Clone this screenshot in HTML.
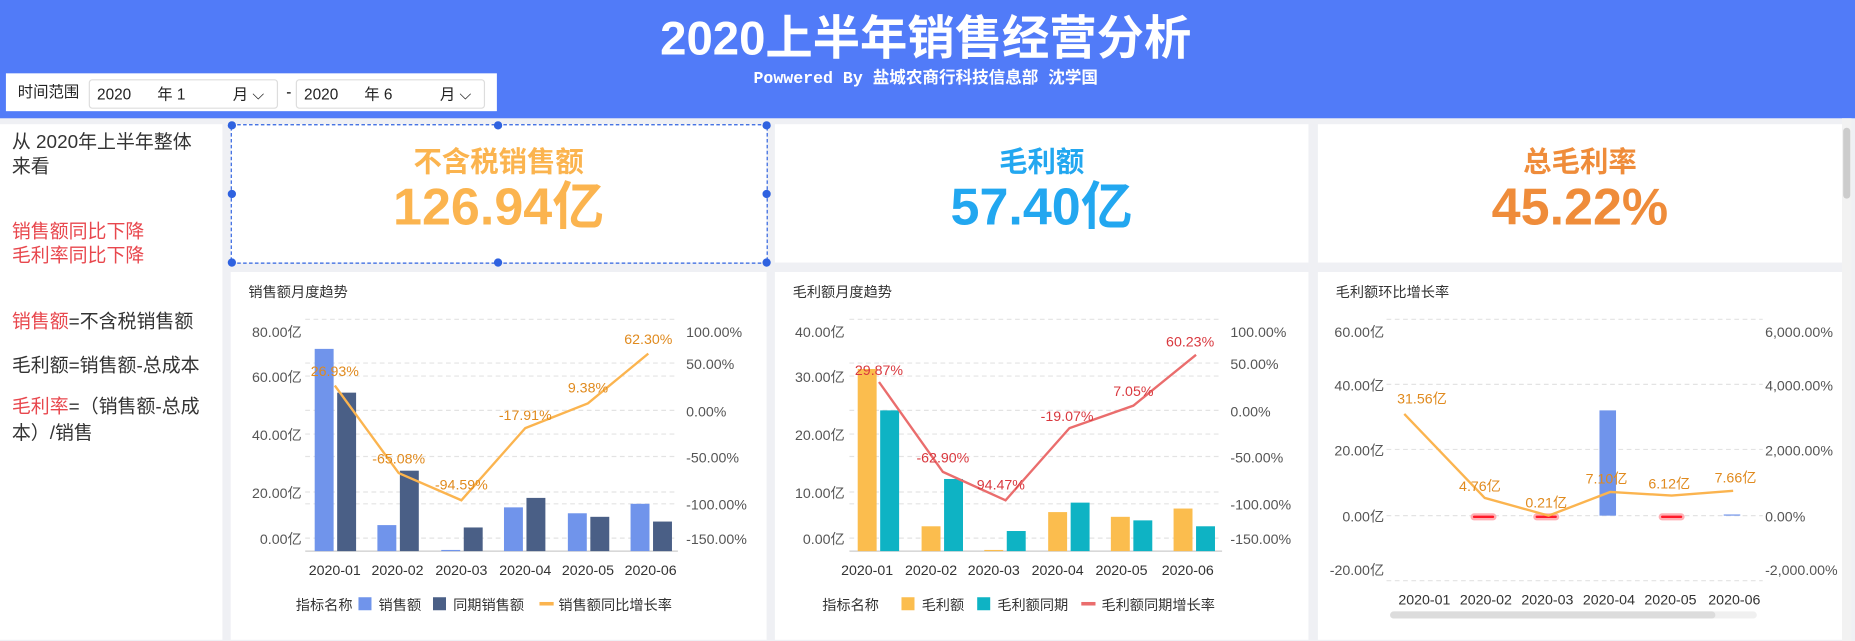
<!DOCTYPE html>
<html><head><meta charset="utf-8"><style>
html,body{margin:0;width:1855px;height:641px;overflow:hidden;background:#eff0f4}
#r{position:absolute;left:0;top:0;width:1568px;height:542px;transform:scale(1.18304,1.18266);transform-origin:0 0;font-family:"Liberation Sans","Noto Sans CJK SC",sans-serif;background:#eff0f4}
.a{position:absolute}
.w{position:absolute;background:#fff}
</style></head><body><div id="r">
<div class="a" style="left:0;top:0;width:1568px;height:100px;background:#517bf8"></div>
<div class="a" style="left:0;top:8px;width:1565px;text-align:center;color:#fff;font-size:40px;line-height:50px;font-weight:bold;">2020上半年销售经营分析</div>
<div class="a" style="left:0;top:58px;width:1565px;text-align:center;color:#fff;font-size:14px;line-height:18px;font-weight:bold;font-family:'Liberation Mono','Noto Sans CJK SC',monospace">Powwered By 盐城农商行科技信息部 沈学国</div>
<div class="w" style="left:5px;top:62px;width:415px;height:32px"></div>
<div class="a" style="left:15px;top:70px;font-size:13px;line-height:16px;color:#222">时间范围</div>
<div class="a" style="left:75px;top:67px;width:158px;height:23px;border:1px solid #ddd;border-radius:3px;font-size:13px;color:#222;line-height:23px"><span style="margin-left:6px">2020</span><span style="margin-left:22px">年 1</span><span style="margin-left:40px">月 ⌵</span></div>
<div class="a" style="left:242px;top:70px;font-size:13px">-</div>
<div class="a" style="left:250px;top:67px;width:158px;height:23px;border:1px solid #ddd;border-radius:3px;font-size:13px;color:#222;line-height:23px"><span style="margin-left:6px">2020</span><span style="margin-left:22px">年 6</span><span style="margin-left:40px">月 ⌵</span></div>

<div class="w" style="left:0;top:105px;width:188px;height:436px"></div>
<div class="a" style="left:10px;top:110px;font-size:16px;line-height:21px;color:#333">从 2020年上半年整体<br>来看</div>
<div class="a" style="left:10px;top:187px;font-size:16px;line-height:20px;color:#e8474d">销售额同比下降<br>毛利率同比下降</div>
<div class="a" style="left:10px;top:263px;font-size:16px;line-height:20px;color:#333"><span style="color:#e8474d">销售额</span>=不含税销售额</div>
<div class="a" style="left:10px;top:300px;font-size:16px;line-height:20px;color:#333">毛利额=销售额-总成本</div>
<div class="a" style="left:10px;top:334px;font-size:16px;line-height:22px;color:#333"><span style="color:#e8474d">毛利率</span>=（销售额-总成<br>本）/销售</div>

<div class="w" style="left:195px;top:105px;width:453px;height:117px"></div>
<div class="w" style="left:655px;top:105px;width:451px;height:117px"></div>
<div class="w" style="left:1114px;top:105px;width:443px;height:117px"></div>
<div class="w" style="left:195px;top:230px;width:453px;height:311px"></div>
<div class="w" style="left:655px;top:230px;width:451px;height:311px"></div>
<div class="w" style="left:1114px;top:230px;width:443px;height:311px"></div>

<div class="a" style="left:195px;top:123px;width:453px;text-align:center;font-size:24px;line-height:30px;font-weight:bold;color:#fbb44f">不含税销售额</div>
<div class="a" style="left:195px;top:151px;width:453px;text-align:center;font-size:44px;line-height:50px;font-weight:bold;color:#fbb44f">126.94亿</div>
<div class="a" style="left:655px;top:123px;width:451px;text-align:center;font-size:24px;line-height:30px;font-weight:bold;color:#22a7f0">毛利额</div>
<div class="a" style="left:655px;top:151px;width:451px;text-align:center;font-size:44px;line-height:50px;font-weight:bold;color:#22a7f0">57.40亿</div>
<div class="a" style="left:1114px;top:123px;width:443px;text-align:center;font-size:24px;line-height:30px;font-weight:bold;color:#ef8c3a">总毛利率</div>
<div class="a" style="left:1114px;top:151px;width:443px;text-align:center;font-size:44px;line-height:50px;font-weight:bold;color:#ef8c3a">45.22%</div>

<svg class="a" style="left:0;top:0" width="1568" height="542" font-family="Liberation Sans,Noto Sans CJK SC,sans-serif">
<g fill="none" stroke="#2f62e0" stroke-dasharray="3,2"><rect x="195.5" y="105.5" width="453" height="117"/></g>
<g fill="#2f62e0"><circle cx="196" cy="106" r="3.5"/><circle cx="421" cy="106" r="3.5"/><circle cx="648" cy="106" r="3.5"/><circle cx="196" cy="164" r="3.5"/><circle cx="648" cy="164" r="3.5"/><circle cx="196" cy="222" r="3.5"/><circle cx="421" cy="222" r="3.5"/><circle cx="648" cy="222" r="3.5"/></g>
<rect x="1557" y="100" width="8" height="442" fill="#f2f2f2"/>
<rect x="1558" y="108" width="6" height="60" rx="3" fill="#ccc"/>

<g font-size="12" fill="#333"><text x="210" y="251">销售额月度趋势</text><text x="670" y="251">毛利额月度趋势</text><text x="1129" y="251">毛利额环比增长率</text></g>

<g stroke="#e3e3e3" stroke-dasharray="4,3"><path d="M258 270H573M258 307H573M258 318H573M258 347H573M258 367H573M258 386H573M258 416H573M258 426H573M258 455H573"/></g>
<path d="M258 466H573" stroke="#ccc"/>
<g font-size="12" fill="#555" text-anchor="end"><text x="255" y="285">80.00亿</text><text x="255" y="323">60.00亿</text><text x="255" y="372">40.00亿</text><text x="255" y="421">20.00亿</text><text x="255" y="460">0.00亿</text></g>
<g font-size="12" fill="#555"><text x="580" y="285">100.00%</text><text x="580" y="312">50.00%</text><text x="580" y="352">0.00%</text><text x="580" y="391">-50.00%</text><text x="580" y="431">-100.00%</text><text x="580" y="460">-150.00%</text></g>
<g fill="#7094eb"><rect x="266" y="295" width="16" height="171"/><rect x="319" y="444" width="16" height="22"/><rect x="373" y="465" width="16" height="1"/><rect x="426" y="429" width="16" height="37"/><rect x="480" y="434" width="16" height="32"/><rect x="533" y="426" width="16" height="40"/></g>
<g fill="#4a5f86"><rect x="285" y="332" width="16" height="134"/><rect x="338" y="398" width="16" height="68"/><rect x="392" y="446" width="16" height="20"/><rect x="445" y="421" width="16" height="45"/><rect x="499" y="437" width="16" height="29"/><rect x="552" y="441" width="16" height="25"/></g>
<polyline points="283,326 337,400 390,423 444,362 497,341 548,299" fill="none" stroke="#fbb44f" stroke-width="2"/>
<g font-size="12" fill="#e08a1e" text-anchor="middle"><text x="283" y="318">26.93%</text><text x="337" y="392">-65.08%</text><text x="390" y="414">-94.59%</text><text x="444" y="355">-17.91%</text><text x="497" y="332">9.38%</text><text x="548" y="291">62.30%</text></g>
<g font-size="12" fill="#333" text-anchor="middle"><text x="283" y="486">2020-01</text><text x="336" y="486">2020-02</text><text x="390" y="486">2020-03</text><text x="444" y="486">2020-04</text><text x="497" y="486">2020-05</text><text x="550" y="486">2020-06</text></g>
<g font-size="12" fill="#333"><text x="250" y="516">指标名称</text><rect x="303" y="505" width="11" height="11" fill="#7094eb"/><text x="320" y="516">销售额</text><rect x="366" y="505" width="11" height="11" fill="#4a5f86"/><text x="383" y="516">同期销售额</text><rect x="456" y="509" width="12" height="3" fill="#fbb44f"/><text x="472" y="516">销售额同比增长率</text></g>

<g stroke="#e3e3e3" stroke-dasharray="4,3"><path d="M718 270H1033M718 307H1033M718 318H1033M718 347H1033M718 367H1033M718 386H1033M718 416H1033M718 426H1033M718 455H1033"/></g>
<path d="M718 466H1033" stroke="#ccc"/>
<g font-size="12" fill="#555" text-anchor="end"><text x="714" y="285">40.00亿</text><text x="714" y="323">30.00亿</text><text x="714" y="372">20.00亿</text><text x="714" y="421">10.00亿</text><text x="714" y="460">0.00亿</text></g>
<g font-size="12" fill="#555"><text x="1040" y="285">100.00%</text><text x="1040" y="312">50.00%</text><text x="1040" y="352">0.00%</text><text x="1040" y="391">-50.00%</text><text x="1040" y="431">-100.00%</text><text x="1040" y="460">-150.00%</text></g>
<g fill="#fbbd4e"><rect x="725" y="312" width="16" height="154"/><rect x="779" y="445" width="16" height="21"/><rect x="832" y="465" width="16" height="1"/><rect x="886" y="433" width="16" height="33"/><rect x="939" y="437" width="16" height="29"/><rect x="992" y="430" width="16" height="36"/></g>
<g fill="#0eb3c4"><rect x="744" y="347" width="16" height="119"/><rect x="798" y="405" width="16" height="61"/><rect x="851" y="449" width="16" height="17"/><rect x="905" y="425" width="16" height="41"/><rect x="958" y="440" width="16" height="26"/><rect x="1011" y="445" width="16" height="21"/></g>
<polyline points="743,323 797,399 850,423 904,362 958,343 1011,300" fill="none" stroke="#ea6d6d" stroke-width="2"/>
<g font-size="12" fill="#d9383e" text-anchor="middle"><text x="743" y="317">29.87%</text><text x="797" y="391">-62.90%</text><text x="846" y="414">94.47%</text><text x="902" y="356">-19.07%</text><text x="958" y="335">7.05%</text><text x="1006" y="293">60.23%</text></g>
<g font-size="12" fill="#333" text-anchor="middle"><text x="733" y="486">2020-01</text><text x="787" y="486">2020-02</text><text x="840" y="486">2020-03</text><text x="894" y="486">2020-04</text><text x="948" y="486">2020-05</text><text x="1004" y="486">2020-06</text></g>
<g font-size="12" fill="#333"><text x="695" y="516">指标名称</text><rect x="762" y="505" width="11" height="11" fill="#fbbd4e"/><text x="779" y="516">毛利额</text><rect x="826" y="505" width="11" height="11" fill="#0eb3c4"/><text x="843" y="516">毛利额同期</text><rect x="914" y="509" width="12" height="3" fill="#ea6d6d"/><text x="931" y="516">毛利额同期增长率</text></g>

<g stroke="#e3e3e3" stroke-dasharray="4,3"><path d="M1172 270H1490M1172 325H1490M1172 380H1490M1172 436H1490M1172 491H1490"/></g>
<g font-size="12" fill="#555" text-anchor="end"><text x="1170" y="285">60.00亿</text><text x="1170" y="330">40.00亿</text><text x="1170" y="385">20.00亿</text><text x="1170" y="441">0.00亿</text><text x="1170" y="486">-20.00亿</text></g>
<g font-size="12" fill="#555"><text x="1492" y="285">6,000.00%</text><text x="1492" y="330">4,000.00%</text><text x="1492" y="385">2,000.00%</text><text x="1492" y="441">0.00%</text><text x="1492" y="486">-2,000.00%</text></g>
<rect x="1352" y="347" width="14" height="89" fill="#7094eb"/><rect x="1457" y="435" width="14" height="1" fill="#7094eb"/>
<g fill="#ff1a2a" stroke="#ffb0b5" stroke-width="2"><rect x="1244" y="435" width="20" height="4" rx="2"/><rect x="1297" y="435" width="20" height="4" rx="2"/><rect x="1403" y="435" width="20" height="4" rx="2"/></g>
<polyline points="1187,350 1255,421 1309,436 1361,416 1413,419 1465,415" fill="none" stroke="#fbb44f" stroke-width="2"/>
<g font-size="12" fill="#e08a1e" text-anchor="middle"><text x="1202" y="341">31.56亿</text><text x="1251" y="415">4.76亿</text><text x="1307" y="429">0.21亿</text><text x="1358" y="409">7.10亿</text><text x="1411" y="413">6.12亿</text><text x="1467" y="408">7.66亿</text></g>
<g font-size="12" fill="#333" text-anchor="middle"><text x="1204" y="511">2020-01</text><text x="1256" y="511">2020-02</text><text x="1308" y="511">2020-03</text><text x="1360" y="511">2020-04</text><text x="1412" y="511">2020-05</text><text x="1466" y="511">2020-06</text></g>
<rect x="1175" y="517" width="310" height="6" rx="3" fill="#f0f0f0"/>
<rect x="1175" y="517" width="275" height="6" rx="3" fill="#dcdcdc"/>
</svg>
</div></body></html>
